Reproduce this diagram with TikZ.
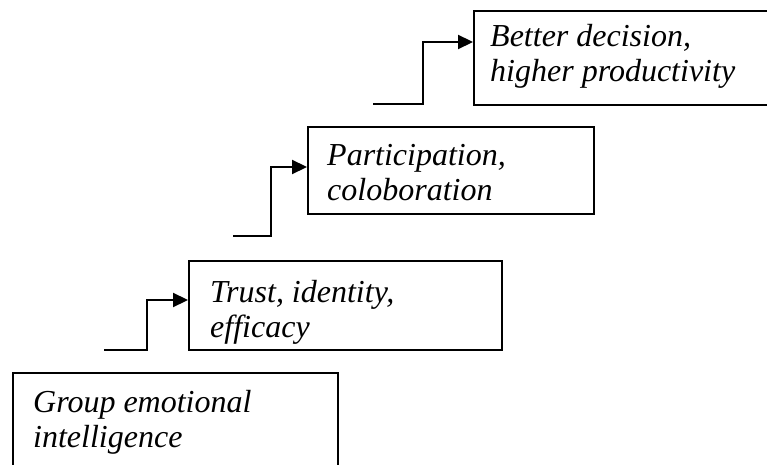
\documentclass[tikz,border=0pt]{standalone}
\usepackage{fontspec}
\setmainfont{Liberation Serif}
\usetikzlibrary{arrows.meta}
\begin{document}
\begin{tikzpicture}[x=1pt,y=-1pt,
  box/.style={draw=black, line width=2.2pt, inner sep=0pt, anchor=north west},
  label/.style={inner sep=0pt, anchor=base west, align=left,
    font=\fontsize{32}{35}\selectfont\itshape},
  conn/.style={line width=2.2pt, -{Triangle[length=15pt,width=14pt]}}]
\useasboundingbox (0,0) rectangle (767,465);
\clip (0,0) rectangle (767,465);
% boxes
\node[box, minimum width=325pt, minimum height=140pt] (b1) at (12,372) {};
\node[box, minimum width=313pt, minimum height=89pt] (b2) at (188,260) {};
\node[box, minimum width=286pt, minimum height=87pt] (b3) at (307,126) {};
\node[box, minimum width=340pt, minimum height=94pt] (b4) at (473,10) {};
% texts (anchor at baseline of the last line)
\node[label] (t1) at ([xshift=21pt,yshift=-75pt]b1.north west) {Group emotional\\intelligence};
\node[label] (t2) at ([xshift=22pt,yshift=-77pt]b2.north west) {Trust, identity,\\efficacy};
\node[label] (t3) at ([xshift=20pt,yshift=-74pt]b3.north west) {Participation,\\coloboration};
\node[label] (t4) at ([xshift=17pt,yshift=-72pt]b4.north west) {Better decision,\\higher productivity};
% step connectors
\coordinate (s1) at (104,350);
\coordinate (s2) at (233,236);
\coordinate (s3) at (373,104);
\draw[conn] (s1) -- ++(43,0) |- ([yshift=-40pt]b2.north west);
\draw[conn] (s2) -- ++(38,0) |- ([yshift=-41pt]b3.north west);
\draw[conn] (s3) -- ++(50,0) |- ([yshift=-32pt]b4.north west);
\end{tikzpicture}
\end{document}
